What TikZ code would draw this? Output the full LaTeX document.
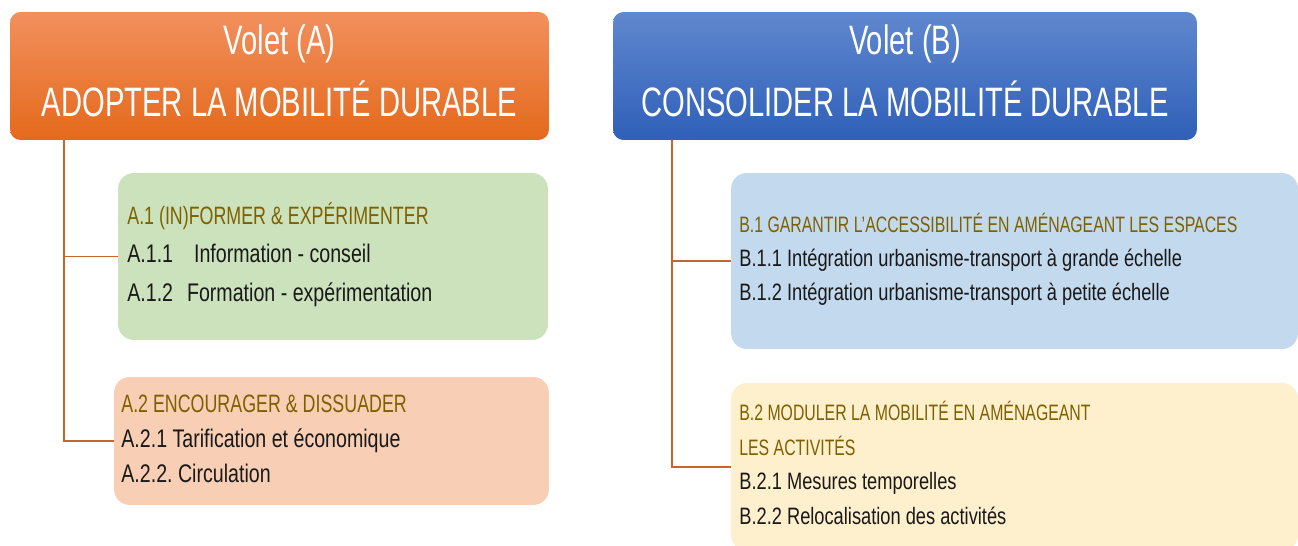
\documentclass[tikz,border=0pt]{standalone}
\usepackage{fontspec}
\setmainfont{Liberation Sans}[FakeStretch=0.77]
\newfontfamily\capsfont{Liberation Sans}[FakeStretch=0.71]
\frenchspacing

\definecolor{orangeA}{HTML}{F2905E}
\definecolor{orangeB}{HTML}{F47C2E}
\definecolor{orangeC}{HTML}{E4691B}
\definecolor{bleuA}{HTML}{6088CF}
\definecolor{bleuB}{HTML}{4472C4}
\definecolor{bleuC}{HTML}{2F5FB8}
\definecolor{vertclair}{HTML}{CCE2BD}
\definecolor{saumon}{HTML}{F8CFB4}
\definecolor{bleuclair}{HTML}{C3D9EE}
\definecolor{creme}{HTML}{FFF0CD}
\definecolor{olive}{HTML}{7F6000}
\definecolor{brun}{HTML}{C6652C}

\begin{document}
\begin{tikzpicture}[x=0.02cm,y=-0.02cm,
  volet/.style={rectangle,rounded corners=6pt,inner sep=0pt},
  cadre/.style={rectangle,rounded corners=9pt,inner sep=0pt},
  entete/.style={anchor=base,inner sep=0pt,text=white,font=\capsfont\fontsize{23.4}{28}\selectfont},
  titreA/.style={anchor=base west,inner sep=0pt,text=olive,font=\capsfont\fontsize{14.3}{17}\selectfont},
  texteA/.style={anchor=base west,inner sep=0pt,text=black!90,font=\fontsize{14.5}{17}\selectfont},
  titreB/.style={anchor=base west,inner sep=0pt,text=olive,font=\capsfont\fontsize{12.7}{15}\selectfont},
  texteB/.style={anchor=base west,inner sep=0pt,text=black!90,font=\fontsize{13.5}{16}\selectfont},
  lien/.style={draw=brun,line width=0.75pt}]
\clip (0,0) rectangle (1298,546);

% volet A
\node[volet,minimum width=10.78cm,minimum height=2.56cm,top color=orangeA,middle color=orangeB,bottom color=orangeC] (hA) at (279.5,76) {};
\node[entete] (hA1) at (279.5,55) {Volet (A)};
\node[entete] (hA2) at (279.5,117) {ADOPTER LA MOBILITÉ DURABLE};

\node[cadre,fill=vertclair,minimum width=8.6cm,minimum height=3.34cm] (a1) at (333,256.5) {};
\node[titreA] (a1t) at (127,225) {A.1 (IN)FORMER \& EXPÉRIMENTER};
\node[texteA] (a11) at (127,263) {A.1.1\hspace{11.9pt}Information - conseil};
\node[texteA] (a12) at (127,302) {A.1.2\hspace{7.9pt}Formation - expérimentation};

\node[cadre,fill=saumon,minimum width=8.7cm,minimum height=2.56cm] (a2) at (331.5,441) {};
\node[titreA] (a2t) at (121,413) {A.2 ENCOURAGER \& DISSUADER};
\node[texteA] (a21) at (121,448) {A.2.1 Tarification et économique};
\node[texteA] (a22) at (121,483) {A.2.2. Circulation};

\coordinate (ra) at (64,140);
\draw[lien] (ra) |- (a2.west);
\draw[lien] (ra |- a1.west) -- (a1.west);

% volet B
\node[volet,minimum width=11.68cm,minimum height=2.56cm,top color=bleuA,middle color=bleuB,bottom color=bleuC] (hB) at (905,76) {};
\node[entete] (hB1) at (905,55) {Volet (B)};
\node[entete] (hB2) at (905,117) {CONSOLIDER LA MOBILITÉ DURABLE};

\node[cadre,fill=bleuclair,minimum width=11.34cm,minimum height=3.52cm] (b1) at (1014.5,261) {};
\node[titreB] (b1t) at (739,233) {B.1 GARANTIR L’ACCESSIBILITÉ EN AMÉNAGEANT LES ESPACES};
\node[texteB] (b11) at (739,267) {B.1.1 Intégration urbanisme-transport à grande échelle};
\node[texteB] (b12) at (739,301) {B.1.2 Intégration urbanisme-transport à petite échelle};

\node[cadre,fill=creme,minimum width=11.34cm,minimum height=3.36cm] (b2) at (1014.5,467) {};
\node[titreB] (b2t) at (739,421) {B.2 MODULER LA MOBILITÉ EN AMÉNAGEANT};
\node[titreB] (b2u) at (739,456) {LES ACTIVITÉS};
\node[texteB] (b21) at (739,490) {B.2.1 Mesures temporelles};
\node[texteB] (b22) at (739,525) {B.2.2 Relocalisation des activités};

\coordinate (rb) at (672,140);
\draw[lien] (rb) |- (b2.west);
\draw[lien] (rb |- b1.west) -- (b1.west);
\end{tikzpicture}
\end{document}
